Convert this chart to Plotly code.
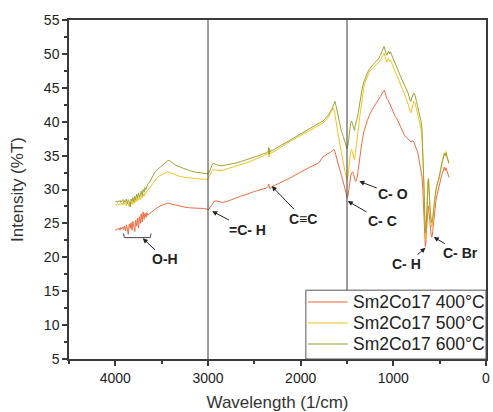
import plotly.graph_objects as go

# ---------------- data ----------------
# Region A: noisy O-H region (cm^-1)
wn_a = [4000, 3990, 3980, 3970, 3960, 3950, 3940, 3930, 3920, 3910,
        3900, 3890, 3880, 3870, 3860, 3850, 3840, 3830, 3820, 3810,
        3800, 3790, 3780, 3770, 3760, 3750, 3740, 3730, 3720, 3710,
        3700, 3690, 3680, 3670, 3660, 3650]
t400_a = [24.1, 24.0, 24.2, 24.1, 24.3, 24.0, 24.4, 24.2, 24.5, 24.1,
          24.6, 23.9, 24.8, 24.2, 23.4, 24.9, 24.3, 25.1, 24.0, 25.3,
          24.4, 23.8, 25.5, 24.6, 25.8, 24.3, 26.0, 25.0, 26.4, 25.2,
          26.7, 25.6, 26.5, 25.9, 26.6, 26.2]
t500_a = [27.8, 27.7, 27.9, 27.8, 27.7, 27.9, 27.8, 28.0, 27.7, 28.0,
          27.8, 28.1, 27.6, 28.2, 27.9, 27.5, 28.1, 27.9, 28.3, 27.8,
          28.4, 28.0, 28.6, 28.2, 28.8, 28.4, 28.9, 28.5, 29.1, 28.8,
          29.3, 29.0, 29.5, 29.4, 29.7, 29.9]
t600_a = [28.2, 28.3, 28.1, 28.3, 28.2, 28.4, 28.1, 28.3, 28.5, 28.0,
          28.4, 28.2, 28.6, 27.9, 28.5, 28.2, 27.4, 28.6, 28.3, 28.8,
          28.2, 29.0, 28.5, 29.3, 28.7, 29.5, 28.9, 29.2, 29.8, 29.1,
          30.0, 29.6, 30.3, 30.0, 30.6, 30.8]

# Region B: 3625 - 1800
wn_b = [3625, 3600, 3575, 3550, 3525, 3500, 3475, 3450, 3430, 3410,
        3380, 3350, 3300, 3250, 3200, 3150, 3100, 3050, 3010, 3000,
        2990, 2970, 2950, 2930, 2900, 2850, 2800, 2750, 2700, 2650,
        2600, 2550, 2500, 2450, 2400, 2370, 2350, 2345, 2340, 2335,
        2330, 2320, 2300, 2250, 2200, 2150, 2100, 2050, 2000, 1950,
        1900, 1850, 1800]
t400_b = [26.5, 26.8, 27.1, 27.3, 27.5, 27.7, 27.8, 27.9, 28.0, 27.9,
          27.8, 27.7, 27.5, 27.4, 27.3, 27.3, 27.2, 27.2, 27.1, 27.0,
          27.1, 27.5, 28.0, 28.3, 28.3, 28.1, 28.2, 28.5, 28.8, 29.0,
          29.2, 29.5, 29.7, 29.9, 30.1, 30.2, 30.5, 30.8, 30.6, 30.3,
          30.1, 30.3, 30.5, 30.8, 31.1, 31.5, 31.8, 32.2, 32.6, 33.0,
          33.3, 33.6, 34.0]
t500_b = [30.2, 30.8, 31.3, 31.7, 32.0, 32.2, 32.4, 32.5, 32.6, 32.5,
          32.3, 32.1, 31.9, 31.8, 31.7, 31.6, 31.6, 31.5, 31.5, 31.5,
          31.8, 32.4, 32.9, 32.9, 32.8, 32.8, 33.0, 33.2, 33.4, 33.6,
          33.9, 34.1, 34.4, 34.7, 35.0, 35.1, 35.3, 35.9, 34.8, 35.7,
          35.2, 35.4, 35.5, 35.9, 36.4, 36.8, 37.2, 37.6, 38.0, 38.4,
          38.8, 39.2, 39.5]
t600_b = [31.2, 31.9, 32.5, 32.9, 33.2, 33.5, 33.9, 34.2, 34.3, 34.2,
          33.9, 33.6, 33.3, 33.0, 32.8, 32.6, 32.5, 32.4, 32.3, 32.3,
          32.5, 33.2, 33.8, 33.8, 33.6, 33.5, 33.6, 33.8, 33.9, 34.1,
          34.3, 34.5, 34.8, 35.0, 35.3, 35.4, 35.6, 36.2, 35.2, 36.0,
          35.5, 35.7, 35.8, 36.2, 36.7, 37.1, 37.5, 37.9, 38.3, 38.7,
          39.1, 39.5, 39.8]

# Region C: 1760 - 400
wn_c = [1760, 1720, 1700, 1680, 1660, 1650, 1640, 1630, 1620, 1600,
        1580, 1560, 1540, 1520, 1510, 1500, 1490, 1480, 1470, 1460,
        1450, 1440, 1430, 1420, 1410, 1400, 1390, 1380, 1360, 1340,
        1320, 1300, 1280, 1260, 1240, 1220, 1200, 1180, 1160, 1140,
        1120, 1110, 1100, 1090, 1080, 1070, 1060, 1050, 1040, 1030,
        1020, 1000, 980, 960, 940, 920, 900, 880, 860, 840,
        820, 810, 800, 790, 780, 770, 760, 750, 740, 730,
        720, 710, 700, 690, 680, 670, 665, 660, 655, 650,
        645, 640, 635, 630, 625, 620, 615, 610, 605, 600,
        595, 590, 585, 580, 575, 570, 565, 560, 550, 540,
        530, 520, 510, 500, 490, 480, 470, 460, 450, 440,
        430, 420, 410, 400]
t400_c = [34.8, 35.1, 35.3, 35.5, 35.7, 35.8, 35.9, 35.6, 35.0, 34.0,
          33.0, 32.1, 31.2, 30.2, 29.5, 28.8, 29.0, 30.0, 31.2, 32.0,
          32.4, 32.6, 32.3, 31.6, 31.2, 31.3, 31.8, 32.8, 35.0, 36.9,
          38.4, 39.4, 40.2, 40.9, 41.5, 42.0, 42.4, 42.8, 43.2, 43.7,
          44.2, 44.5, 44.6, 44.3, 43.8, 43.4, 43.3, 43.0, 42.6, 42.3,
          42.0, 41.3, 40.8, 40.4, 39.8, 39.2, 38.5, 38.0, 37.7, 37.5,
          37.2, 37.0, 37.1, 37.2, 37.0, 36.7, 36.3, 35.9, 35.6, 35.0,
          34.3, 33.6, 33.0, 31.8, 29.5, 26.0, 23.8, 22.2, 21.6, 21.9,
          23.0, 24.8, 26.3, 27.2, 27.6, 27.4, 26.6, 25.3, 24.2, 23.6,
          23.2, 23.0, 23.0, 23.2, 23.8, 24.6, 25.4, 26.2, 27.4, 28.4,
          29.1, 29.6, 30.0, 30.7, 31.4, 32.0, 32.6, 33.0, 33.3, 32.8,
          33.2, 32.7, 32.3, 31.8]
t500_c = [39.8, 40.3, 40.7, 41.2, 41.7, 42.0, 41.9, 41.3, 40.2, 38.5,
          36.8, 35.3, 33.9, 32.6, 31.9, 31.5, 31.9, 33.0, 34.6, 35.6,
          35.9, 35.3, 34.6, 34.4, 35.4, 36.8, 37.5, 38.6, 41.0, 43.2,
          44.9, 46.0, 46.8, 47.3, 47.7, 47.9, 48.2, 48.5, 48.7, 49.1,
          49.6, 49.9, 50.1, 49.6, 49.0, 48.8, 49.2, 49.3, 48.9, 49.1,
          48.7, 48.0, 47.4, 46.8, 46.1, 45.4, 44.8, 44.1, 43.5, 42.6,
          41.6, 41.3, 41.9, 42.6, 43.0, 42.9, 42.5, 41.9, 41.3, 40.7,
          40.0, 39.5, 38.8, 37.5, 34.5, 30.8, 27.5, 24.8, 23.0, 22.6,
          23.8, 26.2, 28.5, 30.3, 31.2, 31.3, 30.4, 28.6, 26.9, 25.8,
          25.0, 24.6, 24.5, 24.7, 25.3, 26.1, 27.0, 27.7, 28.9, 29.9,
          30.6, 31.0, 31.4, 32.2, 32.9, 33.6, 34.2, 34.8, 35.4, 34.9,
          35.6, 34.7, 34.3, 33.8]
t600_c = [40.1, 40.6, 41.0, 41.5, 41.9, 42.3, 42.6, 43.0, 42.4, 41.2,
          39.5, 38.6, 37.8, 36.9, 36.4, 36.0, 36.5, 37.8, 39.0, 39.8,
          40.1, 39.6, 38.9, 38.7, 39.5, 40.3, 40.5, 41.2, 43.0, 44.6,
          45.8, 46.6, 47.2, 47.7, 48.1, 48.4, 48.7, 49.0, 49.3, 49.8,
          50.5, 50.9, 51.1, 50.6, 50.0, 49.8, 50.2, 50.4, 50.0, 50.3,
          49.9, 49.2, 48.6, 48.0, 47.3, 46.6, 46.0, 45.4, 44.9, 44.2,
          43.2, 43.0, 43.5, 44.0, 44.2, 44.1, 43.7, 43.0, 42.4, 41.8,
          41.0, 40.6, 40.0, 38.8, 35.5, 32.0, 28.5, 25.8, 24.2, 23.6,
          24.5, 26.8, 29.0, 30.6, 31.4, 31.6, 30.8, 29.0, 27.6, 26.5,
          25.6, 25.2, 25.1, 25.3, 25.9, 26.7, 27.5, 27.8, 29.0, 30.0,
          30.7, 31.1, 31.5, 32.3, 33.0, 33.7, 34.3, 34.8, 35.3, 35.0,
          35.4, 34.8, 34.3, 33.9]

series_names = ["Sm2Co17 400°C", "Sm2Co17 500°C", "Sm2Co17 600°C"]
series_colors = ["#F26A3F", "#F3C21E", "#9CA434"]

# Annotation labels: text, arrow tip (wn, %T), text centre (wn, %T)
ann_text = ["O-H", "=C- H", "C≡C", "C- O", "C- C", "C- H", "C- Br"]
ann_tip_x = [3704, 2955, 2312, 1367, 1491, 653, 563]
ann_tip_y = [22.8, 26.8, 30.5, 31.2, 28.3, 21.4, 23.0]
ann_txt_x = [3461, 2578, 1973, 1001, 1117, 858, 278]
ann_txt_y = [19.7, 24.1, 25.7, 29.3, 25.3, 19.0, 20.6]

# O-H bracket ends (wn, %T)
oh_left, oh_right, oh_low, oh_high = 3911, 3615, 22.9, 23.5

# Reference lines (wn)
vlines = [3000, 1500]

# ---------------- figure ----------------
wn = wn_a + wn_b + wn_c
ys = [t400_a + t400_b + t400_c,
      t500_a + t500_b + t500_c,
      t600_a + t600_b + t600_c]

FONT = "Liberation Sans, Arial, sans-serif"
fig = go.Figure()
for name, col, y in zip(series_names, series_colors, ys):
    fig.add_trace(go.Scatter(x=wn, y=y, mode="lines", name=name,
                             line=dict(color=col, width=1), showlegend=False))

shapes = []
for v in vlines:
    shapes.append(dict(type="line", xref="x", yref="paper", x0=v, x1=v,
                       y0=0, y1=1, line=dict(color="#3a3a3a", width=1),
                       layer="above"))
shapes.append(dict(type="path", xref="x", yref="y",
                   path=f"M{oh_left},{oh_high} L{oh_left-8},{oh_low} "
                        f"L{oh_right+8},{oh_low} L{oh_right},{oh_high}",
                   line=dict(color="#444444", width=1)))

annotations = []
for t, x, y, ax, ay in zip(ann_text, ann_tip_x, ann_tip_y, ann_txt_x, ann_txt_y):
    annotations.append(dict(x=x, y=y, ax=ax, ay=ay, xref="x", yref="y",
                            axref="x", ayref="y", text=f"<b>{t}</b>",
                            showarrow=True, arrowhead=2, arrowsize=1,
                            arrowwidth=1, arrowcolor="#222222",
                            font=dict(family=FONT, size=14, color="#222222"),
                            borderpad=1))

# Legend box (drawn in paper coordinates, bottom-right of plot area)
leg_x0, leg_x1, leg_y0, leg_y1 = 0.568, 1.0, 0.0, 0.203
leg_rows = [0.168, 0.106, 0.044]
shapes.append(dict(type="rect", xref="paper", yref="paper",
                   x0=leg_x0, x1=leg_x1, y0=leg_y0, y1=leg_y1,
                   fillcolor="white", line=dict(color="#555555", width=1),
                   layer="above"))
for name, col, ry in zip(series_names, series_colors, leg_rows):
    shapes.append(dict(type="line", xref="paper", yref="paper",
                       x0=leg_x0 + 0.005, x1=leg_x0 + 0.1, y0=ry, y1=ry,
                       line=dict(color=col, width=1.5), opacity=0.7,
                       layer="above"))
    annotations.append(dict(x=leg_x0 + 0.108, y=ry, xref="paper", yref="paper",
                            xanchor="left", yanchor="middle", showarrow=False,
                            text=name,
                            font=dict(family=FONT, size=17.5, color="#222222")))

axis_common = dict(showline=True, linecolor="#3a3a3a", linewidth=1.5,
                   mirror=True, ticks="outside", ticklen=5, tickwidth=1.5,
                   tickcolor="#3a3a3a", showgrid=False, zeroline=False,
                   tickfont=dict(family=FONT, size=14, color="#222222"))

fig.update_layout(
    width=493, height=412,
    margin=dict(l=69, r=3, t=20, b=52),
    paper_bgcolor="white", plot_bgcolor="white",
    font=dict(family=FONT, color="#333333"),
    shapes=shapes, annotations=annotations,
    showlegend=False,
    xaxis=dict(range=[4500, 0], tickvals=[4000, 3000, 2000, 1000, 0],
               minor=dict(dtick=500, ticks="outside", ticklen=3, tickwidth=1.5,
                          tickcolor="#3a3a3a", showgrid=False),
               title=dict(text="Wavelength (1/cm)", standoff=12,
                          font=dict(family=FONT, size=17, color="#333333")),
               **axis_common),
    yaxis=dict(range=[5, 55], dtick=5,
               minor=dict(dtick=2.5, ticks="outside", ticklen=3, tickwidth=1.5,
                          tickcolor="#3a3a3a", showgrid=False),
               title=dict(text="Intensity (%T)", standoff=16,
                          font=dict(family=FONT, size=17, color="#333333")),
               **axis_common),
)

fig.write_html("out.html")
